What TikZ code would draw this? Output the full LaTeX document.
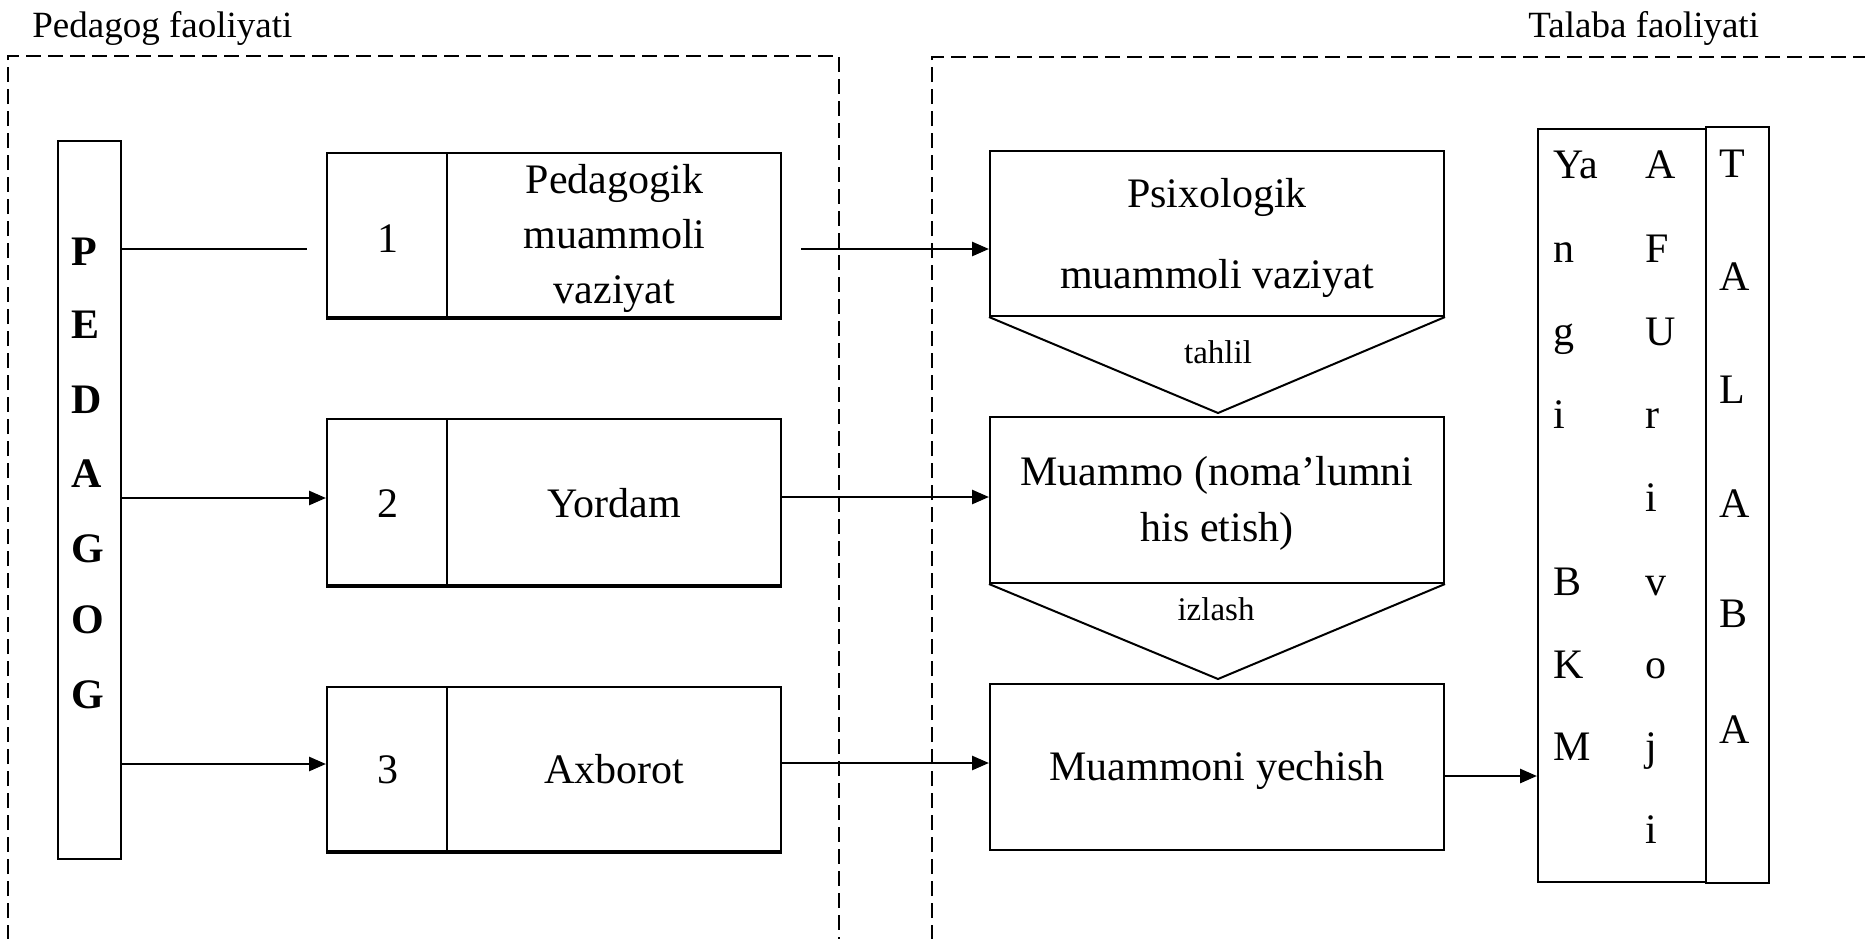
\documentclass[tikz,border=0pt]{standalone}
\usepackage{fontspec}
\setmainfont{Liberation Serif}
\usetikzlibrary{arrows.meta}
\begin{document}
\begin{tikzpicture}[x=0.5pt,y=-0.5pt,
  box/.style={draw, line width=1pt, rectangle, inner sep=0pt},
  arr/.style={line width=1.35pt, -{Triangle[length=8.5pt,width=7pt]}},
  plain/.style={line width=1.35pt},
  dashbox/.style={line width=1pt, dash pattern=on 7.5pt off 3.5pt},
  txt/.style={anchor=base, inner sep=0pt, font=\fontsize{21}{25}\selectfont},
  lbl/.style={anchor=base west, inner sep=0pt, font=\fontsize{18.5}{22}\selectfont},
  small/.style={anchor=base, inner sep=0pt, font=\fontsize{16.5}{20}\selectfont},
  letter/.style={anchor=base west, inner sep=0pt, font=\fontsize{21}{25}\selectfont},
  boldletter/.style={anchor=base west, inner sep=0pt, font=\fontsize{21}{25}\selectfont\bfseries},
]
\useasboundingbox (0,0) rectangle (1865,938);

% dashed regions
\draw[dashbox] (8,940) -- (8,56) -- (839,56) -- (839,940);
\draw[dashbox] (932,940) -- (932,57) -- (1868,57);
\node[lbl] (lp) at (32,37) {Pedagog faoliyati};
\node[lbl] (lt) at (1528,37) {Talaba faoliyati};

% PEDAGOG column
\node[box, minimum width=31.5pt, minimum height=359pt] (ped) at (89.5,500) {};
\foreach \c/\y [count=\i] in {P/265,E/338,D/413,A/487,G/562,O/633,G/708}
  \node[boldletter] (pl\i) at (71,\y) {\c};

% left boxes
\node[box, minimum width=227pt, minimum height=82pt] (b1) at (554,235) {};
\node[box, minimum width=227pt, minimum height=83pt] (b2) at (554,502) {};
\node[box, minimum width=227pt, minimum height=82pt] (b3) at (554,769) {};
\foreach \b in {b1,b2,b3} {
  \draw[line width=1pt] (\b.north west) ++(121,0) coordinate (\b-d) -- (\b-d |- \b.south);
  \draw[line width=1.5pt] (\b.south west) -- (\b.south east);
}
\node[txt] (n1) at (387.5,252) {1};
\node[txt] (t1a) at (614.5,193) {Pedagogik};
\node[txt] (t1b) at (614.5,248) {muammoli};
\node[txt] (t1c) at (614.5,303) {vaziyat};
\node[txt] (n2) at (387.5,517) {2};
\node[txt] (t2) at (614.5,517) {Yordam};
\node[txt] (n3) at (387.5,783) {3};
\node[txt] (t3) at (614.5,783) {Axborot};

% right boxes
\node[box, minimum width=227pt, minimum height=82.5pt] (p1) at (1217,233.5) {};
\node[box, minimum width=227pt, minimum height=83pt] (p2) at (1217,500) {};
\node[box, minimum width=227pt, minimum height=83pt] (p3) at (1217,767) {};
\node[txt] (q1a) at (1217,207) {Psixologik};
\node[txt] (q1b) at (1217,288) {muammoli vaziyat};
\node[txt] (q2a) at (1217,485) {Muammo (noma’lumni};
\node[txt] (q2b) at (1217,541) {his etish)};
\node[txt] (q3) at (1217,780) {Muammoni yechish};

% triangles
\coordinate (apex1) at (1218,413);
\draw[line width=1pt] (p1.south west) -- (apex1) -- (p1.south east);
\node[small] (tah) at (1218,363) {tahlil};
\coordinate (apex2) at (1218,679);
\draw[line width=1pt] (p2.south west) -- (apex2) -- (p2.south east);
\node[small] (izl) at (1216,620) {izlash};

% result boxes
\node[box, minimum width=84pt, minimum height=376.5pt] (yb) at (1622,505.5) {};
\node[box, minimum width=31.5pt, minimum height=378pt] (tb) at (1737.5,505) {};
\foreach \c/\y [count=\i] in {Ya/178,n/262,g/345,i/428,B/595,K/678,M/760}
  \node[letter] (ya\i) at (1553,\y) {\c};
\foreach \c/\y [count=\i] in {A/178,F/262,U/345,r/428,i/511,v/595,o/678,j/760,i/843}
  \node[letter] (af\i) at (1645,\y) {\c};
\foreach \c/\y [count=\i] in {T/177,A/290,L/403,A/517,B/627,A/743}
  \node[letter] (ta\i) at (1719,\y) {\c};

% connectors
\coordinate (e1) at (307,249);
\draw[plain] (ped.east |- e1) -- (e1);
\draw[arr] (ped.east |- 0,498) -- (b2.west |- 0,498);
\draw[arr] (ped.east |- 0,764) -- (b3.west |- 0,764);
\coordinate (s1) at (801,249);
\draw[arr] (s1) -- (p1.west |- s1);
\draw[arr] (b2.east |- 0,497) -- (p2.west |- 0,497);
\draw[arr] (b3.east |- 0,763) -- (p3.west |- 0,763);
\draw[arr] (p3.east |- 0,776) -- (yb.west |- 0,776);
\end{tikzpicture}
\end{document}
